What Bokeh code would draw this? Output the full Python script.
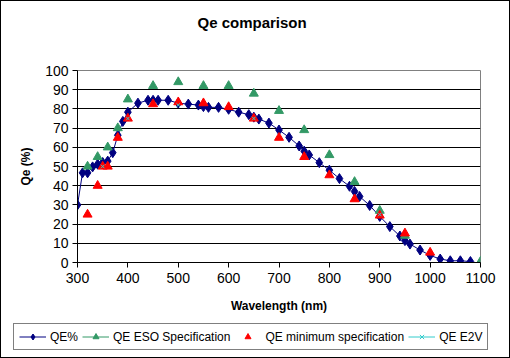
from bokeh.plotting import figure
from bokeh.layouts import column, row
from bokeh.models import Range1d, FixedTicker, Legend, LegendItem, ColumnDataSource, Title
from bokeh.embed import file_html
from bokeh.resources import INLINE

# ---- data ----
qe_wavelength = [300, 310, 320, 330, 340, 350, 360, 370, 380, 390, 400,
                 420, 440, 450, 460, 480, 500, 520, 540, 550, 560,
                 580, 600, 620, 640, 650, 660, 680, 700, 720, 740,
                 750, 760, 780, 800, 820, 840, 850, 860, 880, 900,
                 920, 940, 950, 960, 980, 1000, 1020, 1040, 1060, 1080]
qe_percent = [30, 46.7, 46.7, 49.8, 51.2, 52.1, 52.8, 57.2, 66.3, 73.5, 78.3,
              83, 84.5, 84.5, 84.5, 84.5, 83, 82.5, 82, 81.2, 80.8,
              80.8, 79.8, 78.3, 77, 75.7, 74.7, 72.6, 69, 65.2, 60.7,
              58, 56, 52, 48.1, 43.7, 39.7, 37, 34.4, 29.7, 24,
              18.7, 13.8, 11.4, 9.6, 6.5, 3.7, 1.8, 0.9, 0.9, 0.5]

eso_wavelength = [320, 340, 360, 380, 400, 450, 500, 550, 600, 650, 700,
                  750, 800, 850, 900, 950, 1100]
eso_spec = [50, 55, 60, 70, 85, 92, 94, 92, 92, 88, 79, 69, 56, 42, 27, 14, 0.5]

min_wavelength = [320, 340, 350, 360, 380, 400, 450, 500, 550, 600, 650,
                  700, 750, 800, 850, 900, 950, 1000]
min_spec = [25, 40, 50, 50, 65, 75, 82.5, 83.5, 83, 81, 75, 65, 55, 45.5,
            33, 24.5, 15.2, 5.2]

e2v_wavelength = [350, 400, 500, 650, 900]
e2v_qe = [50, 75, 82, 75, 25]

series_names = ["QE%", "QE ESO Specification", "QE minimum specification", "QE E2V"]
chart_title = "Qe comparison"
x_ticks = [300, 400, 500, 600, 700, 800, 900, 1000, 1100]
y_ticks = [0, 10, 20, 30, 40, 50, 60, 70, 80, 90, 100]

FONT = "Liberation Sans"
NAVY = "#000080"
GREEN = "#339966"
RED = "#FF0000"
CYAN = "#33CCCC"

p = figure(width=508, height=318, output_backend="svg", toolbar_location=None,
           x_range=Range1d(300, 1100), y_range=Range1d(0, 100),
           min_border_left=76, min_border_right=29, min_border_top=69,
           min_border_bottom=57)

# real title, with an empty spacer title between it and the plot area
p.title.text = chart_title
p.title.align = "left"
p.title.offset = 120
p.title.text_font = FONT
p.title.text_font_size = "15px"
p.title.text_font_style = "bold"
p.title.text_color = "black"
p.add_layout(Title(text=" ", text_font_size="30px", standoff=0), "above")

p.outline_line_color = "#808080"
p.background_fill_color = "white"
p.border_fill_color = "white"

p.xgrid.visible = False
p.ygrid.grid_line_color = "black"
p.ygrid.grid_line_width = 1
p.ygrid.ticker = FixedTicker(ticks=y_ticks)

for ax in (p.xaxis[0], p.yaxis[0]):
    ax.axis_line_color = "black"
    ax.major_tick_line_color = "black"
    ax.major_tick_out = 5
    ax.major_tick_in = 0
    ax.minor_tick_line_color = None
    ax.major_label_text_font = FONT
    ax.major_label_text_font_size = "14px"
    ax.major_label_text_color = "black"
    ax.axis_label_text_font = FONT
    ax.axis_label_text_font_size = "12px"
    ax.axis_label_text_font_style = "bold"
    ax.axis_label_text_color = "black"

p.xaxis[0].ticker = FixedTicker(ticks=x_ticks)
p.yaxis[0].ticker = FixedTicker(ticks=y_ticks)
p.xaxis[0].axis_label = "Wavelength (nm)"
p.yaxis[0].axis_label = "Qe (%)"
p.xaxis[0].major_label_standoff = 5
p.yaxis[0].major_label_standoff = 4
p.xaxis[0].axis_label_standoff = 13
p.yaxis[0].axis_label_standoff = 9

qe_src = ColumnDataSource(dict(x=qe_wavelength, y=qe_percent))
eso_src = ColumnDataSource(dict(x=eso_wavelength, y=eso_spec))
min_src = ColumnDataSource(dict(x=min_wavelength, y=min_spec))
e2v_src = ColumnDataSource(dict(x=e2v_wavelength, y=e2v_qe))

p.line("x", "y", source=qe_src, line_color=NAVY, line_width=1)
p.scatter("x", "y", source=qe_src, marker="diamond", size=10,
          fill_color=NAVY, line_color=NAVY)
p.scatter("x", "y", source=eso_src, marker="triangle", size=9,
          fill_color=GREEN, line_color=GREEN)
p.scatter("x", "y", source=min_src, marker="triangle", size=9,
          fill_color=RED, line_color=RED)
p.scatter("x", "y", source=e2v_src, marker="x", size=5,
          line_color=CYAN, line_width=1)

# ---- legend strip: separate figure whose ranges keep the data out of view ----
lf = figure(width=508, height=38, output_backend="svg", toolbar_location=None,
            x_axis_type=None, y_axis_type=None,
            x_range=Range1d(0, 1), y_range=Range1d(0, 1),
            min_border=0, outline_line_color=None)
lf.xgrid.visible = False
lf.ygrid.visible = False
l_qe_line = lf.line("x", "y", source=qe_src, line_color=NAVY, line_width=1)
l_qe_pts = lf.scatter("x", "y", source=qe_src, marker="diamond", size=8,
                      fill_color=NAVY, line_color=NAVY)
l_eso_line = lf.line("x", "y", source=eso_src, line_color=GREEN, line_width=1)
l_eso_pts = lf.scatter("x", "y", source=eso_src, marker="triangle", size=8,
                       fill_color=GREEN, line_color=GREEN)
l_min_pts = lf.scatter("x", "y", source=min_src, marker="triangle", size=8,
                       fill_color=RED, line_color=RED)
l_e2v_line = lf.line("x", "y", source=e2v_src, line_color=CYAN, line_width=1)
l_e2v_pts = lf.scatter("x", "y", source=e2v_src, marker="x", size=5,
                       line_color=CYAN, line_width=1)

legend = Legend(items=[
    LegendItem(label=series_names[0], renderers=[l_qe_line, l_qe_pts]),
    LegendItem(label=series_names[1], renderers=[l_eso_line, l_eso_pts]),
    LegendItem(label=series_names[2], renderers=[l_min_pts]),
    LegendItem(label=series_names[3], renderers=[l_e2v_line, l_e2v_pts]),
], orientation="horizontal", location=(12, 7))
legend.label_text_font = FONT
legend.label_text_font_size = "12px"
legend.label_text_color = "black"
legend.glyph_width = 27
legend.glyph_height = 15
legend.label_height = 15
legend.label_standoff = 4
legend.spacing = 4
legend.padding = 5
legend.margin = 0
legend.border_line_color = "black"
legend.border_line_width = 1
legend.background_fill_color = "white"
legend.background_fill_alpha = 1
lf.add_layout(legend, "center")

layout = column(p, row(lf, spacing=0), spacing=0,
                styles={"border": "1px solid black"})

open("out.html", "w").write(file_html(layout, INLINE))
